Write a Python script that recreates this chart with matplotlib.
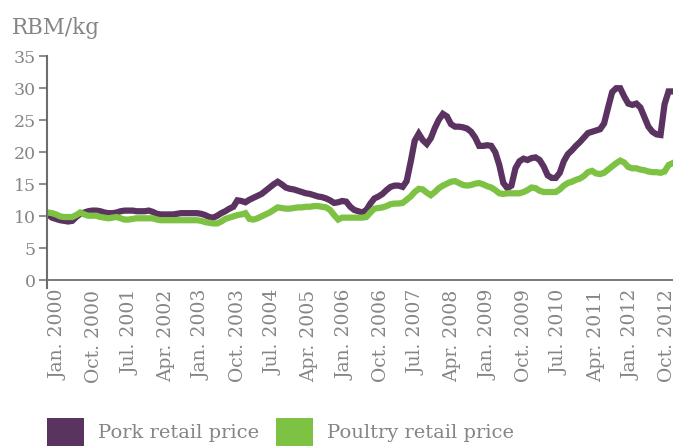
import numpy as np
import matplotlib
matplotlib.use("Agg")
from matplotlib import pyplot as plt
from matplotlib.patches import Patch

# monthly retail prices, Jan. 2000 - Dec. 2012 (RBM/kg)
PORK = [
    10.3, 9.8, 9.6, 9.4, 9.3, 9.2, 9.3, 9.9, 10.4, 10.6, 10.8, 10.9,
    10.9, 10.8, 10.6, 10.5, 10.5, 10.6, 10.8, 10.9, 10.9, 10.9, 10.8, 10.8,
    10.8, 10.9, 10.7, 10.4, 10.3, 10.3, 10.3, 10.3, 10.4, 10.5, 10.5, 10.5,
    10.5, 10.5, 10.4, 10.2, 9.9, 9.8, 10.1, 10.5, 10.8, 11.2, 11.5, 12.5,
    12.4, 12.2, 12.6, 12.9, 13.2, 13.5, 14.0, 14.5, 15.0, 15.4, 15.0, 14.5,
    14.3, 14.2, 14.0, 13.8, 13.6, 13.5, 13.3, 13.1, 13.0, 12.8, 12.5, 12.1,
    12.2, 12.4, 12.3, 11.5, 11.0, 10.8, 10.6, 11.0, 12.0, 12.8, 13.1, 13.5,
    14.1, 14.6, 14.8, 14.8, 14.6, 15.5, 18.5, 21.8, 22.9, 21.9, 21.3, 22.2,
    23.8, 25.1, 26.0, 25.6, 24.4, 24.0, 24.0, 23.9, 23.7, 23.2, 22.3, 21.0,
    21.0, 21.1, 21.0, 20.0, 18.0, 15.2, 14.4, 14.8, 17.5, 18.6, 19.0, 18.8,
    19.1, 19.2, 18.8, 17.8, 16.4, 16.0, 16.0, 16.8, 18.6, 19.7, 20.3, 21.0,
    21.6, 22.3, 23.0, 23.2, 23.4, 23.6, 24.5, 27.0, 29.4, 30.0, 30.0, 28.7,
    27.6, 27.4, 27.6, 27.0, 25.5, 24.0, 23.2, 22.8, 22.7, 27.5, 29.5, 29.5,
]
POULTRY = [
    10.6, 10.5, 10.3, 10.0, 9.9, 9.9, 9.9, 10.2, 10.6, 10.3, 10.1, 10.1,
    10.1, 9.9, 9.8, 9.7, 9.8, 9.9, 9.7, 9.5, 9.5, 9.6, 9.7, 9.7,
    9.7, 9.7, 9.7, 9.5, 9.4, 9.4, 9.4, 9.4, 9.4, 9.4, 9.4, 9.4,
    9.4, 9.4, 9.3, 9.1, 9.0, 8.9, 8.9, 9.2, 9.6, 9.8, 10.0, 10.2,
    10.3, 10.5, 9.6, 9.5, 9.7, 10.0, 10.3, 10.6, 11.0, 11.4, 11.3, 11.2,
    11.2, 11.3, 11.4, 11.4, 11.5, 11.5, 11.6, 11.6, 11.5, 11.4, 11.0, 10.2,
    9.5, 9.8, 9.8, 9.8, 9.8, 9.8, 9.8, 9.9, 10.6, 11.2, 11.3, 11.4,
    11.6, 11.9, 12.0, 12.0, 12.1, 12.6, 13.1, 13.8, 14.3, 14.2, 13.7, 13.3,
    13.8, 14.4, 14.8, 15.1, 15.4, 15.5, 15.2, 14.9, 14.8, 14.9, 15.1, 15.2,
    15.0, 14.7, 14.5, 14.1, 13.6, 13.5, 13.6, 13.6, 13.6, 13.6, 13.8, 14.1,
    14.5, 14.4, 14.0, 13.8, 13.8, 13.8, 13.8, 14.2, 14.8, 15.2, 15.4, 15.7,
    15.9, 16.3, 16.9, 17.1, 16.7, 16.6, 16.8, 17.3, 17.8, 18.3, 18.7, 18.4,
    17.7, 17.5, 17.5, 17.3, 17.2, 17.0, 16.9, 16.9, 16.8, 17.0, 18.0, 18.3,
]
TICK_LABELS = [
    "Jan. 2000", "Oct. 2000", "Jul. 2001", "Apr. 2002", "Jan. 2003",
    "Oct. 2003", "Jul. 2004", "Apr. 2005", "Jan. 2006", "Oct. 2006",
    "Jul. 2007", "Apr. 2008", "Jan. 2009", "Oct. 2009", "Jul. 2010",
    "Apr. 2011", "Jan. 2012", "Oct. 2012",
]
SERIES = ["Pork retail price", "Poultry retail price"]

PURPLE = "#5b3361"
GREEN = "#7dc243"
GREY = "#6e6e6e"
TEXT = "#858585"

plt.rcParams["font.family"] = ["DejaVu Serif"]

fig = plt.figure(figsize=(6.79, 4.46), dpi=100)
ax = fig.add_axes((47 / 679, 0.354, 626 / 679, 0.520))

months = np.arange(len(PORK))
ax.plot(months, PORK, color=PURPLE, lw=4.5, solid_joinstyle="miter")
ax.plot(months, POULTRY, color=GREEN, lw=4.5, solid_joinstyle="miter")
ax.axhline(0, color=GREY, lw=1.3, zorder=0)

ax.set_xlim(-0.25, 155.1)
ax.set_ylim(-1.2, 35)
ax.set_yticks(range(0, 36, 5))
ax.set_xticks(np.linspace(2.65, 153.7, len(TICK_LABELS)), TICK_LABELS,
              rotation=90)

for side in ("top", "right", "bottom"):
    ax.spines[side].set_visible(False)
ax.spines["left"].set_color(GREY)
ax.spines["left"].set_linewidth(1.5)
ax.spines["left"].set_bounds(-1.2, 35)

ax.tick_params(axis="y", length=6, width=1.1, color=GREY, pad=2,
               labelsize=12.5, labelcolor=TEXT)
ax.tick_params(axis="x", length=0, pad=1, labelsize=13.5, labelcolor=TEXT)

fig.text(12 / 679, 1 - 34 / 446, "RBM/kg", fontsize=15.5, color=TEXT,
         ha="left", va="baseline")

handles = [Patch(facecolor=c) for c in (PURPLE, GREEN)]
fig.legend(handles, SERIES, loc="lower left", ncol=2, frameon=False,
           bbox_to_anchor=(47 / 679, 0.0), borderpad=0, borderaxespad=0,
           handlelength=1.9, handleheight=1.85, handletextpad=0.7,
           columnspacing=0.9, fontsize=14, labelcolor=TEXT)

fig.savefig("out.png", dpi=100)
